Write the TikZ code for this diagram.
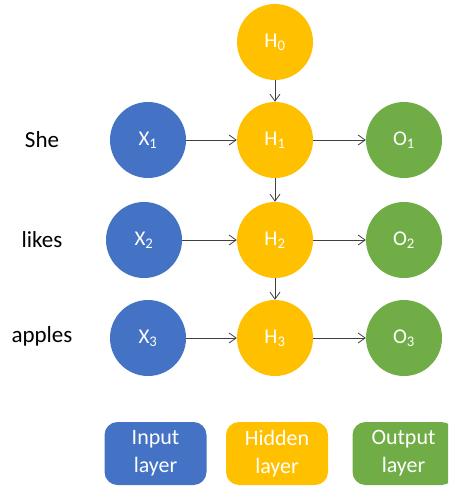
\documentclass[tikz,border=0pt]{standalone}
\usepackage{fontspec}
\setmainfont{Carlito}
\usetikzlibrary{arrows.meta}
\definecolor{inblue}{HTML}{4472C4}
\definecolor{hidgold}{HTML}{FFC000}
\definecolor{outgreen}{HTML}{70AD47}

\begin{document}
\begin{tikzpicture}[x=1pt,y=-1pt,
    ->, >={Straight Barb[length=7pt,width=10pt]},
    unit/.style={circle,minimum size=76pt,inner sep=0pt,text=white,
        font=\fontsize{21}{24}\selectfont},
    xin/.style={unit,fill=inblue},
    hid/.style={unit,fill=hidgold},
    xout/.style={unit,fill=outgreen},
    word/.style={font=\fontsize{23}{26}\selectfont},
    legend/.style={rounded corners=13pt,minimum width=102pt,minimum height=63pt,
        text=white,align=center,font=\fontsize{22}{28}\selectfont}]
            \clip (0,0) rectangle (448,487);

            \node (h0) at (275,42)  [hid] {H\textsubscript{0}};

            \node (she)    at (42,140) [word] {She};
            \node (likes)  at (42,240) [word] {likes};
            \node (apples) at (42,336) [word] {apples};

            \node (x1) at (148,140) [xin]  {X\textsubscript{1}};
            \node (h1) at (275,140) [hid]  {H\textsubscript{1}};
            \node (o1) at (404,140) [xout] {O\textsubscript{1}};

            \node (x2) at (144,240) [xin]  {X\textsubscript{2}};
            \node (h2) at (275,240) [hid]  {H\textsubscript{2}};
            \node (o2) at (404,240) [xout] {O\textsubscript{2}};

            \node (x3) at (148,338) [xin]  {X\textsubscript{3}};
            \node (h3) at (275,338) [hid]  {H\textsubscript{3}};
            \node (o3) at (404,338) [xout] {O\textsubscript{3}};

            \begin{scope}[draw=black!75,line width=0.8pt]
            \draw (h0) -- (h1);
            \draw (h1) -- (h2);
            \draw (h2) -- (h3);
            \draw (x1) -- (h1);
            \draw (h1) -- (o1);
            \draw (x2) -- (h2);
            \draw (h2) -- (o2);
            \draw (x3) -- (h3);
            \draw (h3) -- (o3);
            \end{scope}

            \node (lin)  at (155.5,453.5) [legend,fill=inblue]   {Input\\layer};
            \node (lhid) at (277,453.5)   [legend,fill=hidgold]  {Hidden\\layer};
            \node (lout) at (403.5,453.5) [legend,fill=outgreen] {Output\\layer};
        \end{tikzpicture}
\end{document}
